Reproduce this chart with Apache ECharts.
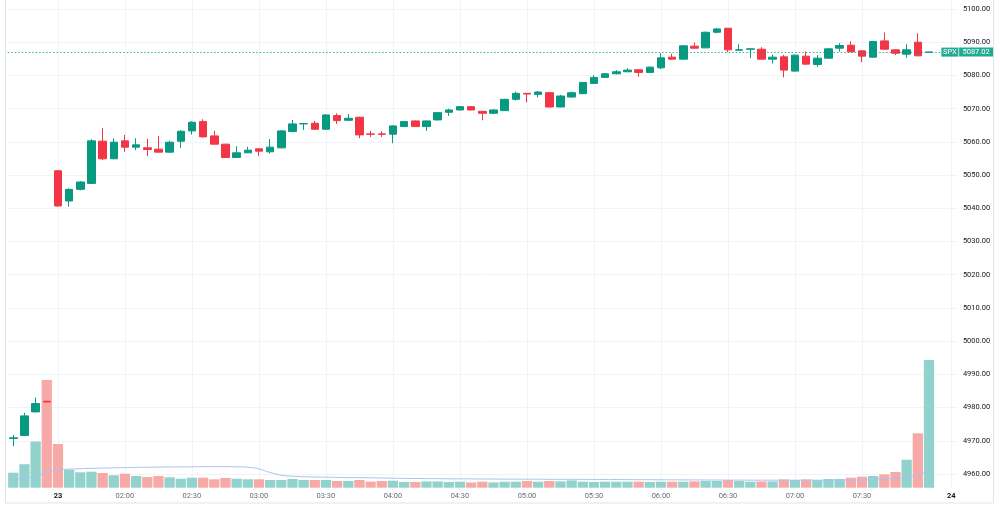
<!DOCTYPE html>
<html>
<head>
<meta charset="utf-8">
<script src="https://cdn.jsdelivr.net/npm/echarts@6/dist/echarts.min.js"></script>
<style>
  html, body { margin: 0; padding: 0; background: #fff; }
  #chart { width: 1000px; height: 505px; }
</style>
</head>
<body>
<div id="chart"></div>
<script>
// 5 minute bars
var times = [
  '22 07:40', '22 07:45', '22 07:50', '22 07:55',
  '01:30', '01:35', '01:40', '01:45', '01:50', '01:55',
  '02:00', '02:05', '02:10', '02:15', '02:20', '02:25', '02:30', '02:35', '02:40', '02:45', '02:50', '02:55',
  '03:00', '03:05', '03:10', '03:15', '03:20', '03:25', '03:30', '03:35', '03:40', '03:45', '03:50', '03:55',
  '04:00', '04:05', '04:10', '04:15', '04:20', '04:25', '04:30', '04:35', '04:40', '04:45', '04:50', '04:55',
  '05:00', '05:05', '05:10', '05:15', '05:20', '05:25', '05:30', '05:35', '05:40', '05:45', '05:50', '05:55',
  '06:00', '06:05', '06:10', '06:15', '06:20', '06:25', '06:30', '06:35', '06:40', '06:45', '06:50', '06:55',
  '07:00', '07:05', '07:10', '07:15', '07:20', '07:25', '07:30', '07:35', '07:40', '07:45', '07:50', '07:55',
  '08:00', '08:05', '24 01:30'
];
var dayLabels = { '01:30': '23', '24 01:30': '24' };
var timeLabels = ['02:00', '02:30', '03:00', '03:30', '04:00', '04:30', '05:00', '05:30', '06:00', '06:30', '07:00', '07:30'];

// [open, close, low, high]
var candles = [
  [4970.7, 4970.9, 4968.4, 4971.7], [4971.6, 4977.5, 4971.5, 4978.4], [4978.7, 4981.2, 4978.6, 4983.0], [4981.9, 4981.7, 4981.6, 4982.0],
  [5051.3, 5040.7, 5040.5, 5051.5], [5042.2, 5045.7, 5040.5, 5046.0], [5045.7, 5047.9, 5045.4, 5048.2], [5047.5, 5060.3, 5047.3, 5060.8],
  [5060.2, 5054.9, 5054.5, 5064.2], [5054.9, 5059.9, 5054.8, 5061.1], [5060.3, 5058.4, 5057.0, 5062.1], [5058.4, 5059.1, 5057.5, 5061.1],
  [5058.2, 5057.7, 5055.7, 5060.9], [5057.8, 5056.9, 5056.8, 5061.8], [5056.9, 5059.9, 5056.7, 5060.3], [5060.2, 5063.2, 5058.2, 5063.5],
  [5063.3, 5065.9, 5062.2, 5066.2], [5066.1, 5061.5, 5061.3, 5066.8], [5061.8, 5059.3, 5059.2, 5063.3], [5059.3, 5055.3, 5055.2, 5059.4],
  [5055.3, 5056.7, 5055.2, 5058.7], [5056.7, 5057.5, 5056.6, 5058.5], [5057.9, 5057.2, 5055.7, 5058.0], [5057.0, 5058.4, 5056.5, 5060.8],
  [5058.2, 5063.3, 5058.0, 5063.6], [5063.1, 5065.4, 5063.0, 5066.6], [5065.4, 5065.5, 5063.6, 5065.7], [5065.6, 5063.8, 5063.7, 5066.3],
  [5063.8, 5068.1, 5063.7, 5068.3], [5067.9, 5066.4, 5065.4, 5068.6], [5066.5, 5067.1, 5066.4, 5068.4], [5067.4, 5062.1, 5061.1, 5067.6],
  [5062.4, 5062.3, 5061.5, 5063.3], [5062.4, 5062.3, 5061.5, 5063.2], [5062.3, 5064.8, 5059.6, 5065.0], [5064.6, 5066.1, 5064.5, 5066.3],
  [5066.3, 5064.6, 5064.5, 5066.4], [5064.6, 5066.3, 5063.3, 5066.4], [5066.6, 5068.8, 5066.5, 5069.0], [5068.9, 5069.6, 5067.8, 5070.0],
  [5069.6, 5070.6, 5069.5, 5070.8], [5070.6, 5069.6, 5069.5, 5070.7], [5069.2, 5068.6, 5066.5, 5069.3], [5068.6, 5069.6, 5068.3, 5069.8],
  [5069.4, 5072.8, 5069.3, 5073.0], [5072.8, 5074.6, 5072.4, 5075.1], [5074.6, 5074.4, 5071.9, 5074.7], [5074.3, 5075.0, 5073.4, 5075.3],
  [5074.8, 5070.5, 5070.4, 5075.0], [5070.5, 5073.8, 5070.4, 5074.1], [5073.5, 5074.8, 5073.3, 5075.1], [5074.5, 5077.9, 5074.4, 5078.0],
  [5077.6, 5079.4, 5077.4, 5080.1], [5079.4, 5080.5, 5079.3, 5080.7], [5080.5, 5081.1, 5080.3, 5081.6], [5081.1, 5081.6, 5081.0, 5082.2],
  [5081.7, 5080.9, 5079.6, 5081.9], [5080.9, 5082.5, 5080.8, 5082.7], [5082.3, 5085.3, 5081.9, 5086.7], [5085.5, 5084.9, 5084.8, 5086.5],
  [5084.9, 5088.9, 5084.8, 5089.1], [5088.8, 5088.2, 5088.1, 5089.9], [5088.3, 5093.0, 5088.2, 5093.2], [5093.0, 5094.0, 5092.7, 5094.3],
  [5094.2, 5087.7, 5087.0, 5094.3], [5087.6, 5087.7, 5087.5, 5089.4], [5087.9, 5088.0, 5085.2, 5088.1], [5087.9, 5084.9, 5084.8, 5088.5],
  [5084.9, 5085.5, 5083.6, 5086.3], [5085.6, 5081.6, 5079.4, 5086.2], [5081.3, 5086.1, 5081.2, 5086.3], [5085.8, 5083.4, 5083.3, 5087.2],
  [5083.3, 5085.2, 5082.6, 5086.1], [5085.2, 5088.0, 5085.1, 5088.2], [5088.2, 5089.0, 5087.2, 5089.7], [5089.1, 5087.1, 5087.0, 5090.3],
  [5087.4, 5085.8, 5084.0, 5087.5], [5085.5, 5090.2, 5085.4, 5090.4], [5090.4, 5087.9, 5087.8, 5092.9], [5087.7, 5086.7, 5086.1, 5087.8],
  [5086.4, 5087.7, 5085.3, 5089.4], [5090.0, 5085.9, 5085.8, 5092.7], [5087.00, 5087.02, 5087.0, 5087.05]
];

var volumes = [
  150, 235, 462, 1077, 437, 180, 154, 160, 147, 124, 140, 117, 107, 117, 104, 90, 100, 100, 84, 97,
  90, 84, 84, 77, 77, 87, 77, 77, 77, 67, 67, 77, 60, 67, 70, 57, 57, 63, 63, 57,
  60, 53, 60, 53, 60, 60, 67, 60, 67, 63, 73, 60, 57, 60, 60, 60, 60, 57, 60, 60,
  60, 63, 67, 67, 77, 67, 60, 63, 63, 83, 77, 83, 77, 87, 87, 100, 110, 117, 133, 157,
  280, 544, 1277
];

var volumeMA = [
  85, 95, 115, 155, 178, 185, 190, 193, 196, 199, 201, 203, 205, 206, 207, 208, 209, 210, 210, 210,
  209, 205, 188, 152, 125, 115, 110, 107, 105, 103, 101, 100, 99, 97, 95, 93, 92, 91, 90, 89,
  88, 88, 87, 87, 86, 86, 85, 85, 84, 84, 84, 83, 83, 82, 82, 81, 80, 80, 79, 79,
  78, 78, 77, 77, 76, 76, 75, 75, 75, 75, 75, 75, 75, 75, 76, 76, 77, 82, 88, 95,
  105, 127, 187
];

var symbol = 'SPX';
var lastPrice = 5087.02;
var priceMin = 4960, priceMax = 5100, priceStep = 10;

var UP = '#089981', DOWN = '#f23645';
var FONT = 'Roboto';

var chart = echarts.init(document.getElementById('chart'));

var gridLeft = 7.7, gridRight = 43.1;

var option = {
  animation: false,
  backgroundColor: '#fff',
  grid: [
    { left: gridLeft, right: gridRight, top: 9, bottom: 31 },
    { left: gridLeft, right: gridRight, top: 0, bottom: 17.3 }
  ],
  xAxis: [
    {
      type: 'category', gridIndex: 0, data: times, show: false, boundaryGap: true
    },
    {
      type: 'category', gridIndex: 1, data: times, boundaryGap: true,
      axisLine: { show: false },
      axisTick: { show: false },
      axisLabel: {
        interval: function (i, v) { return dayLabels[v] !== undefined || timeLabels.indexOf(v) >= 0; },
        formatter: function (v) { return dayLabels[v] ? '{d|' + dayLabels[v] + '}' : v; },
        color: '#6a6d78', fontSize: 7.5, fontFamily: FONT, margin: 4.5,
        rich: { d: { color: '#131722', fontSize: 7.5, fontWeight: 'bold', fontFamily: FONT } }
      },
      splitLine: {
        show: true, alignWithLabel: true,
        interval: function (i, v) { return dayLabels[v] !== undefined || timeLabels.indexOf(v) >= 0; },
        lineStyle: { color: '#f0f3fa', width: 1 }
      }
    }
  ],
  yAxis: [
    {
      type: 'value', gridIndex: 0, position: 'right', scale: true,
      min: priceMin, max: priceMax, interval: priceStep,
      axisLine: { show: false }, axisTick: { show: false },
      axisLabel: {
        color: '#131722', fontSize: 7.5, fontFamily: FONT, margin: 6,
        formatter: function (v) { return v.toFixed(2); }
      },
      splitLine: { lineStyle: { color: '#f0f3fa', width: 1 } }
    },
    {
      type: 'value', gridIndex: 1, min: 0, max: 4877, show: false,
      splitLine: { show: false }
    }
  ],
  series: [
    {
      name: 'Volume', type: 'bar', xAxisIndex: 1, yAxisIndex: 1, z: 1,
      barWidth: '92%',
      data: volumes,
      itemStyle: {
        color: function (p) {
          var c = candles[p.dataIndex];
          return c[1] >= c[0] ? '#92d2cc' : '#f7a9a7';
        }
      }
    },
    {
      name: 'Volume MA', type: 'line', xAxisIndex: 1, yAxisIndex: 1, z: 2,
      data: volumeMA, smooth: true, showSymbol: false, symbol: 'none',
      lineStyle: { color: '#aac2f2', width: 1 }
    },
    {
      name: symbol, type: 'candlestick', xAxisIndex: 0, yAxisIndex: 0, z: 3,
      barWidth: 8,
      data: candles,
      itemStyle: { color: UP, color0: DOWN, borderColor: UP, borderColor0: DOWN, borderWidth: 1 },
      markLine: {
        silent: true, symbol: 'none',
        label: { show: false },
        lineStyle: { color: UP, type: [1.5, 2], width: 1, opacity: 0.8 },
        data: [{ yAxis: lastPrice }]
      }
    }
  ]
};

chart.setOption(option);

// price tag on the right axis
var yTag = chart.convertToPixel({ yAxisIndex: 0 }, lastPrice);
var xEdge = 1000 - gridRight;
chart.setOption({
  graphic: [
    {
      type: 'rect', z: 100, silent: true,
      shape: { x: 5.5, y: -1, width: 988, height: 504 },
      style: { fill: 'none', stroke: '#e0e3eb', lineWidth: 1 }
    },
    {
      type: 'rect', z: 101,
      shape: { x: xEdge - 15.5, y: yTag - 4.5, width: 17, height: 9 },
      style: { fill: '#22ab94' }
    },
    {
      type: 'text', z: 102,
      style: { x: xEdge - 7, y: yTag, text: symbol, fill: '#fff', font: '7.5px Roboto', align: 'center', verticalAlign: 'middle' }
    },
    {
      type: 'rect', z: 101,
      shape: { x: xEdge + 2.2, y: yTag - 4.5, width: 34, height: 9 },
      style: { fill: '#22ab94' }
    },
    {
      type: 'text', z: 102,
      style: { x: xEdge + 19.2, y: yTag, text: lastPrice.toFixed(2), fill: '#fff', font: '7.5px Roboto', align: 'center', verticalAlign: 'middle' }
    }
  ]
});
</script>
</body>
</html>
